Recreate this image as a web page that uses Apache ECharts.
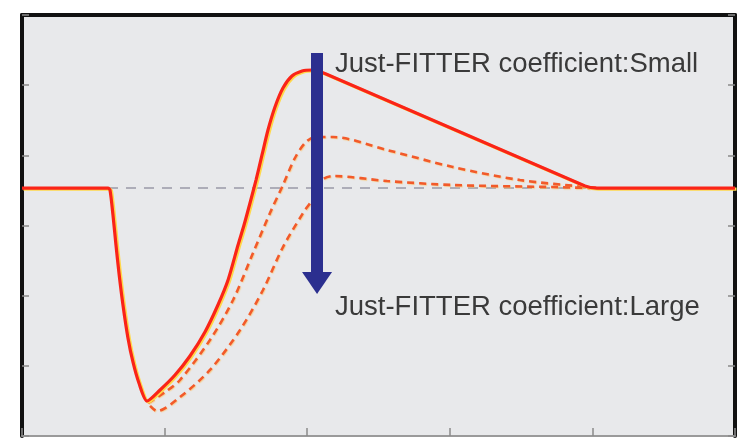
<!DOCTYPE html>
<html><head><meta charset="utf-8">
<script src="https://cdn.jsdelivr.net/npm/echarts@6/dist/echarts.min.js"></script>
<style>html,body{margin:0;padding:0;background:#fff}#c{width:738px;height:443px}</style>
</head><body><div id="c"></div>
<script>
// ---- data (x in time units 0..5, y in signal units 0..6) ----
const baselineValue = 3.534;
const baselineStart = 0.603;
const solidCurve = [
  [0,3.534],[0.603,3.534],[0.617,3.506],[0.638,3.149],[0.659,2.722],[0.680,2.323],
  [0.708,1.867],[0.743,1.397],[0.778,1.055],[0.820,0.755],[0.877,0.499],[0.968,0.656],
  [1.073,0.869],[1.178,1.140],[1.283,1.482],[1.374,1.867],[1.445,2.223],[1.515,2.722],
  [1.557,3.007],[1.599,3.321],[1.641,3.648],[1.683,4.005],[1.725,4.361],[1.774,4.689],
  [1.830,4.959],[1.893,5.130],[1.964,5.202],[2.034,5.216],[2.132,5.159],[3.948,3.563],
  [4.032,3.534],[5,3.534]
];
const dashedMid = [
  [0.884,0.470],[1.003,0.627],[1.108,0.798],[1.318,1.368],[1.480,1.938],[1.620,2.608],
  [1.739,3.178],[1.830,3.577],[1.914,3.962],[1.985,4.176],[2.055,4.261],[2.181,4.261],
  [2.560,4.076],[3.022,3.834],[3.492,3.648],[3.962,3.548],[4.053,3.534]
];
const dashedLow = [
  [0.898,0.428],[0.947,0.356],[1.108,0.556],[1.318,0.941],[1.529,1.511],[1.690,2.081],
  [1.830,2.693],[1.971,3.178],[2.034,3.363],[2.104,3.648],[2.181,3.705],[2.560,3.634],
  [3.022,3.577],[3.724,3.548],[3.983,3.534]
];
const arrowStart = [2.069, 5.458];
const arrowEnd = [2.069, 2.18];
const labelSmall = 'Just-FITTER coefficient:Small';
const labelLarge = 'Just-FITTER coefficient:Large';
const labelSmallAt = [2.195, 5.30];
const labelLargeAt = [2.195, 1.83];

const chart = echarts.init(document.getElementById('c'), null, {renderer:'canvas'});
const axisOff = {show:false};
const dashStyle = {color:'#f25a2a',width:2.6,type:[7,5],shadowColor:'rgba(255,190,90,0.6)',shadowOffsetX:0.8,shadowOffsetY:0.8,shadowBlur:1};
chart.setOption({
  animation:false,
  backgroundColor:'#ffffff',
  grid:{left:22,right:3,top:15,bottom:7,show:true,backgroundColor:'#e8e9eb',borderWidth:0},
  xAxis:[
    {type:'value',min:0,max:5,interval:1,position:'bottom',
     axisLine:{show:true,onZero:false,lineStyle:{color:'#9a9a9a',width:2}},
     axisTick:{show:true,inside:true,length:8,lineStyle:{color:'#8a8a8a',width:1.5}},
     axisLabel:axisOff,splitLine:axisOff},
    {type:'value',min:0,max:5,interval:1,position:'top',
     axisLine:{show:true,onZero:false,lineStyle:{color:'#111',width:4}},
     axisTick:axisOff,axisLabel:axisOff,splitLine:axisOff}
  ],
  yAxis:[
    {type:'value',min:0,max:6,interval:1,position:'left',
     axisLine:{show:true,onZero:false,lineStyle:{color:'#111',width:4}},
     axisTick:{show:true,inside:true,length:7,lineStyle:{color:'#8a8a8a',width:1.5}},
     axisLabel:axisOff,splitLine:axisOff},
    {type:'value',min:0,max:6,interval:1,position:'right',
     axisLine:{show:true,onZero:false,lineStyle:{color:'#111',width:4}},
     axisTick:{show:true,inside:true,length:7,lineStyle:{color:'#8a8a8a',width:1.5}},
     axisLabel:axisOff,splitLine:axisOff}
  ],
  series:[
    {type:'line',name:'base',data:[[baselineStart,baselineValue],[5,baselineValue]],
     showSymbol:false,silent:true,z:1,
     lineStyle:{color:'#adadb8',width:2,type:[10,8]}},
    {type:'line',name:'mid',data:dashedMid,smooth:0.3,showSymbol:false,z:2,lineStyle:dashStyle},
    {type:'line',name:'low',data:dashedLow,smooth:0.3,showSymbol:false,z:2,lineStyle:dashStyle},
    {type:'line',name:'solid',data:solidCurve,smooth:0.25,showSymbol:false,z:3,
     lineStyle:{color:'#fa2418',width:3.2,shadowColor:'#ffd84a',shadowOffsetX:1.5,shadowOffsetY:1,shadowBlur:0},
     markLine:{silent:true,z:10,animation:false,
       label:{show:false},
       lineStyle:{color:'#2b2f8f',width:12,type:'solid'},
       data:[[{coord:arrowStart,symbol:'none'},{coord:arrowEnd,symbol:'triangle',symbolSize:[30,22]}]]},
     markPoint:{silent:true,z:11,symbol:'circle',symbolSize:0,
       itemStyle:{color:'rgba(0,0,0,0)'},
       label:{show:true,position:'right',distance:0,fontSize:27.5,color:'#3a3a3a',
              fontFamily:'Liberation Sans, Arial, sans-serif'},
       data:[
         {coord:labelSmallAt,label:{formatter:labelSmall}},
         {coord:labelLargeAt,label:{formatter:labelLarge}}
       ]}
    }
  ]
});
</script></body></html>
